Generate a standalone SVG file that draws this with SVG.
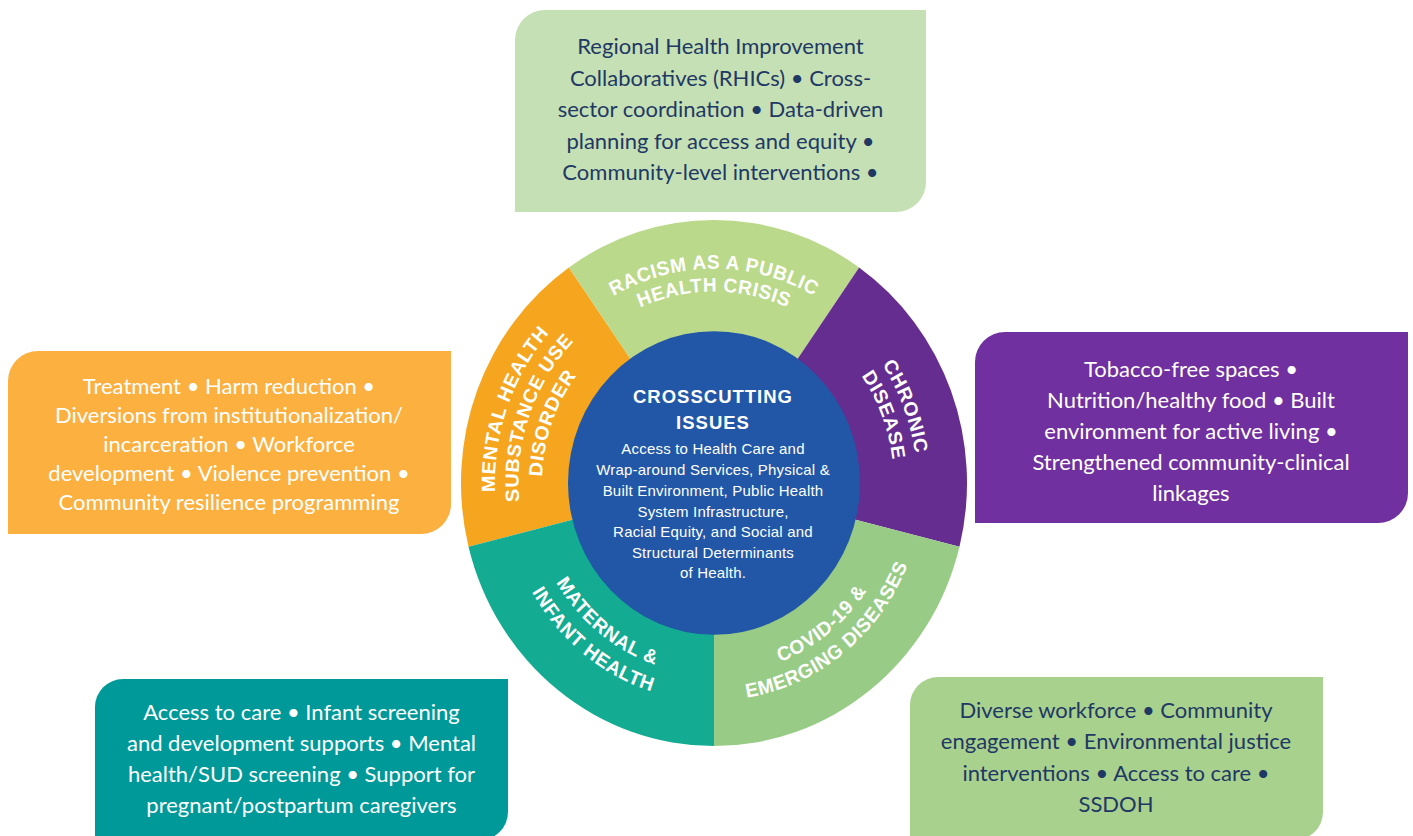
<svg xmlns="http://www.w3.org/2000/svg" xmlns:xlink="http://www.w3.org/1999/xlink" width="1413" height="836" viewBox="0 0 1413 836">
  <style>
    .box-text { font-family: Lato, "Open Sans", "Liberation Sans", sans-serif; font-size: 22px; text-anchor: middle; }
    .navy { fill: #1F3864; }
    .white { fill: #FFFFFF; }
    .seg-label { font-family: "Liberation Sans", Arial, sans-serif; font-weight: bold; font-size: 19px; letter-spacing: 0.6px; fill: #FFFFFF; }
    .hub-title { font-family: "Liberation Sans", Arial, sans-serif; font-weight: bold; font-size: 18.5px; letter-spacing: 1px; fill: #FFFFFF; text-anchor: middle; }
    .hub-body { font-family: "Liberation Sans", Arial, sans-serif; font-size: 15px; letter-spacing: 0.2px; fill: #FFFFFF; text-anchor: middle; }
  </style>
  <defs>
    <!-- baselines for the ring labels (wheel-local coordinates) -->
    <path id="arc-racism-1" d="M-202.87,-35.77 A206,206 0 0 1 202.87,-35.77"/>
    <path id="arc-racism-2" d="M-181.21,-31.95 A184,184 0 0 1 181.21,-31.95"/>
    <path id="arc-chronic-1" d="M-38.73,-199.27 A203,203 0 0 1 104.55,174.01"/>
    <path id="arc-chronic-2" d="M-34.34,-176.66 A180,180 0 0 1 92.71,154.29"/>
    <path id="arc-mental-1" d="M-107.84,190.60 A219,219 0 0 1 36.15,-216.00"/>
    <path id="arc-mental-2" d="M-96.27,170.16 A195.5,195.5 0 0 1 32.27,-192.82"/>
    <path id="arc-mental-3" d="M-84.70,149.70 A172,172 0 0 1 28.39,-169.64"/>
    <path id="arc-covid-1" d="M-122.25,138.18 A184.5,184.5 0 0 0 162.14,-88.04"/>
    <path id="arc-covid-2" d="M-138.49,156.53 A209,209 0 0 0 183.67,-99.73"/>
    <path id="arc-maternal-1" d="M-161.84,-88.60 A184.5,184.5 0 0 0 121.85,138.54"/>
    <path id="arc-maternal-2" d="M-184.21,-100.85 A210,210 0 0 0 138.69,157.68"/>
  </defs>

  <rect width="1413" height="836" fill="#FFFFFF"/>

  <g id="connectors"/>

  <!-- Wheel: five sectors, labels on arcs, blue hub on top -->
  <g id="wheel" transform="translate(714,483) scale(1,1.04)">
    <g id="seg-mental">
      <path d="M0,0 L-245.49,61.21 A253,253 0 0 1 -145.12,-207.24 Z" fill="#F6A51E"/>
      <text class="seg-label"><textPath xlink:href="#arc-mental-1" href="#arc-mental-1" startOffset="50%" text-anchor="middle">MENTAL HEALTH</textPath></text>
      <text class="seg-label"><textPath xlink:href="#arc-mental-2" href="#arc-mental-2" startOffset="50%" text-anchor="middle">SUBSTANCE USE</textPath></text>
      <text class="seg-label"><textPath xlink:href="#arc-mental-3" href="#arc-mental-3" startOffset="50%" text-anchor="middle">DISORDER</textPath></text>
    </g>
    <g id="seg-racism">
      <path d="M0,0 L-145.12,-207.24 A253,253 0 0 1 145.12,-207.24 Z" fill="#BBD98A"/>
      <text class="seg-label"><textPath xlink:href="#arc-racism-1" href="#arc-racism-1" startOffset="50%" text-anchor="middle">RACISM AS A PUBLIC</textPath></text>
      <text class="seg-label"><textPath xlink:href="#arc-racism-2" href="#arc-racism-2" startOffset="50%" text-anchor="middle">HEALTH CRISIS</textPath></text>
    </g>
    <g id="seg-chronic">
      <path d="M0,0 L145.12,-207.24 A253,253 0 0 1 245.49,61.21 Z" fill="#652D90"/>
      <text class="seg-label"><textPath xlink:href="#arc-chronic-1" href="#arc-chronic-1" startOffset="50%" text-anchor="middle">CHRONIC</textPath></text>
      <text class="seg-label"><textPath xlink:href="#arc-chronic-2" href="#arc-chronic-2" startOffset="50%" text-anchor="middle">DISEASE</textPath></text>
    </g>
    <g id="seg-covid">
      <path d="M0,0 L245.49,61.21 A253,253 0 0 1 0,253 Z" fill="#98CC86"/>
      <text class="seg-label"><textPath xlink:href="#arc-covid-1" href="#arc-covid-1" startOffset="50%" text-anchor="middle">COVID-19 &amp;</textPath></text>
      <text class="seg-label"><textPath xlink:href="#arc-covid-2" href="#arc-covid-2" startOffset="50%" text-anchor="middle">EMERGING DISEASES</textPath></text>
    </g>
    <g id="seg-maternal">
      <path d="M0,0 L0,253 A253,253 0 0 1 -245.49,61.21 Z" fill="#13AB92"/>
      <text class="seg-label"><textPath xlink:href="#arc-maternal-1" href="#arc-maternal-1" startOffset="50%" text-anchor="middle">MATERNAL &amp;</textPath></text>
      <text class="seg-label"><textPath xlink:href="#arc-maternal-2" href="#arc-maternal-2" startOffset="50%" text-anchor="middle">INFANT HEALTH</textPath></text>
    </g>
    <circle id="hub-disc" r="146" fill="#2157A6"/>
  </g>

  <g id="hub">
    <text class="hub-title" x="713" y="403">CROSSCUTTING</text>
    <text class="hub-title" x="713" y="429">ISSUES</text>
    <text class="hub-body" x="713" y="454">Access to Health Care and</text>
    <text class="hub-body" x="713" y="475">Wrap-around Services, Physical &amp;</text>
    <text class="hub-body" x="713" y="496">Built Environment, Public Health</text>
    <text class="hub-body" x="713" y="517">System Infrastructure,</text>
    <text class="hub-body" x="713" y="537">Racial Equity, and Social and</text>
    <text class="hub-body" x="713" y="558">Structural Determinants</text>
    <text class="hub-body" x="713" y="578">of Health.</text>
  </g>

  <!-- Callout boxes: rounded top-left and bottom-right corners -->
  <g id="box-racism">
    <path d="M515,40 A30,30 0 0 1 545,10 H926 V182 A30,30 0 0 1 896,212 H515 Z" fill="#C5E0B4"/>
    <text class="box-text navy" x="720.5" y="54">Regional Health Improvement</text>
    <text class="box-text navy" x="720.5" y="85.7">Collaboratives (RHICs) • Cross-</text>
    <text class="box-text navy" x="720.5" y="117.3">sector coordination • Data-driven</text>
    <text class="box-text navy" x="720.5" y="149">planning for access and equity •</text>
    <text class="box-text navy" x="720.5" y="180">Community-level interventions •</text>
  </g>

  <g id="box-mental">
    <path d="M8,381 A30,30 0 0 1 38,351 H451 V504 A30,30 0 0 1 421,534 H8 Z" fill="#FBB03F"/>
    <text class="box-text white" x="229" y="394">Treatment • Harm reduction •</text>
    <text class="box-text white" x="229" y="423">Diversions from institutionalization/</text>
    <text class="box-text white" x="229" y="452">incarceration • Workforce</text>
    <text class="box-text white" x="229" y="481">development • Violence prevention •</text>
    <text class="box-text white" x="229" y="510">Community resilience programming</text>
  </g>

  <g id="box-chronic">
    <path d="M975,362 A30,30 0 0 1 1005,332 H1408 V493 A30,30 0 0 1 1378,523 H975 Z" fill="#7030A0"/>
    <text class="box-text white" x="1191" y="376.5">Tobacco-free spaces •</text>
    <text class="box-text white" x="1191" y="407.5">Nutrition/healthy food • Built</text>
    <text class="box-text white" x="1191" y="438.5">environment for active living •</text>
    <text class="box-text white" x="1191" y="470">Strengthened community-clinical</text>
    <text class="box-text white" x="1191" y="501">linkages</text>
  </g>

  <g id="box-maternal">
    <path d="M95,707 A28,28 0 0 1 123,679 H508 V812 A28,28 0 0 1 480,840 H95 Z" fill="#009999"/>
    <text class="box-text white" x="301.5" y="720">Access to care • Infant screening</text>
    <text class="box-text white" x="301.5" y="751">and development supports • Mental</text>
    <text class="box-text white" x="301.5" y="782">health/SUD screening • Support for</text>
    <text class="box-text white" x="301.5" y="813">pregnant/postpartum caregivers</text>
  </g>

  <g id="box-covid">
    <path d="M910,705 A28,28 0 0 1 938,677 H1323 V812 A28,28 0 0 1 1295,840 H910 Z" fill="#A9D18E"/>
    <text class="box-text navy" x="1116" y="718">Diverse workforce • Community</text>
    <text class="box-text navy" x="1116" y="749">engagement • Environmental justice</text>
    <text class="box-text navy" x="1116" y="781">interventions • Access to care •</text>
    <text class="box-text navy" x="1116" y="812">SSDOH</text>
  </g>
</svg>
